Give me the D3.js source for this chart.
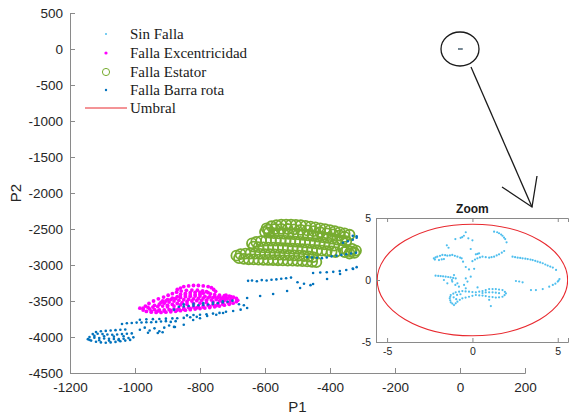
<!DOCTYPE html>
<html>
<head>
<meta charset="utf-8">
<script src="https://cdn.jsdelivr.net/npm/d3@7"></script>
<style>
    body { margin: 0; background: #fff; }
    svg { display: block; }
    .tick text { fill: #262626; font-family: "Liberation Sans", Arial, sans-serif; }
    .legend text { font-family: "Liberation Serif", "Times New Roman", serif; font-size: 15px; fill: #1a1a1a; }
</style>
</head>
<body>
<svg id="chart" width="569" height="416"></svg>
<script>
// ---- data (P1, P2) ----
const xTicks = [-1200, -1000, -800, -600, -400, -200, 0, 200];
const yTicks = [500, 0, -500, -1000, -1500, -2000, -2500, -3000, -3500, -4000, -4500];
const zoomTicks = [-5, 0, 5];
const legendLabels = ["Sin Falla", "Falla Excentricidad", "Falla Estator", "Falla Barra rota", "Umbral"];

// threshold ellipse radii (P1, P2), centred on the origin
const umbralRadii = [5.58, 4.5];

const sinFalla = [
    [-1.0,3.3],[-0.69,3.4],[-0.5,3.57],[-0.39,3.85],[-0.24,3.36],[0,3.2],[-0.6,3.45],
    [1.27,3.9],[1.45,3.85],[1.56,3.77],[1.68,3.67],[1.76,3.57],[1.85,3.42],[1.92,3.3],[2.0,3.04],
    [-2.26,1.75],[-2.16,1.82],[-2.06,1.88],[-1.9,1.95],[-1.76,2.02],[-1.6,2.0],[-1.47,1.96],[-1.32,1.98],
    [-1.18,2.02],[-1.03,1.95],[-0.88,1.88],[-0.72,1.8],[-0.63,1.75],[-0.55,1.48],[-1.96,1.61],[-1.8,1.66],
    [-1.67,1.69],[-2.2,1.65],
    [0,1.52],[0.15,1.65],[0.29,1.75],[0.44,1.82],[0.59,1.88],[0.78,1.84],[0.98,1.8],[1.12,1.84],[1.27,1.88],
    [1.42,1.98],[1.56,2.07],[1.72,2.2],[1.86,2.34],[0.2,2.07],[0.39,2.15],[0.3,2.1],
    [-0.39,1.05],[-0.2,0.85],[0.1,0.9],[-1.4,2.6],[-1.5,2.8],[-0.1,2.5],
    [2.35,1.88],[2.5,1.84],[2.65,1.8],[2.8,1.78],[2.94,1.75],[3.1,1.72],[3.24,1.69],[3.4,1.65],[3.53,1.61],
    [3.68,1.55],[3.82,1.48],[3.97,1.42],[4.12,1.35],[4.27,1.25],[4.41,1.16],[4.56,1.08],[4.71,1.0],[4.9,0.81],
    [2.55,-0.08],[2.74,-0.12],[2.94,-0.19],[3.43,-0.81],[3.72,-0.81],[4.12,-0.73],[4.5,-0.54],[4.71,-0.4],
    [4.86,-0.3],[5.0,-0.13],[5.1,0.08],[5.05,-0.05],
    [-2.16,0.35],[-2.0,0.33],[-1.86,0.32],[-1.72,0.3],[-1.57,0.27],[-1.42,0.24],[-1.28,0.21],[-1.13,0.17],
    [-0.98,0.13],[-1.18,-0.13],[-0.88,-0.27],[-0.79,-0.54],[-1.47,-0.27],[-1.67,0],[-1.08,0.4],[-1.2,0.0],[-1.0,-0.4],
    [-0.39,0.13],[-0.29,-0.13],[-0.1,0.27],[-0.49,-0.4],[-0.39,-0.67],
    [-1.27,-1.21],[-1.12,-1.1],[-0.98,-0.99],[-0.78,-0.94],[-0.59,-0.89],[-0.4,-0.92],[-0.2,-0.94],[0,-0.97],
    [0.2,-0.99],[0.4,-0.94],[0.59,-0.89],[0.78,-0.81],[0.98,-0.73],[1.18,-0.73],[1.37,-0.73],[1.56,-0.77],
    [1.76,-0.81],[1.9,-0.95],[1.96,-1.08],[1.88,-1.22],[1.76,-1.35],[1.56,-1.4],[1.37,-1.42],[1.18,-1.38],
    [0.98,-1.35],[0.78,-1.3],[0.59,-1.26],[0.4,-1.24],[0.2,-1.21],[0,-1.28],[-0.2,-1.35],[-0.4,-1.42],
    [-0.59,-1.48],[-0.74,-1.6],[-0.88,-1.75],[-0.98,-1.88],[-1.08,-2.02],[-1.18,-1.9],[-1.27,-1.8],[-1.3,-1.64],
    [-1.33,-1.48],[-1.3,-1.35],
    [0.59,-1.05],[0.78,-1.0],[0.98,-0.99],[1.18,-0.99],[1.37,-1.02],[1.56,-1.06],[-0.9,-1.2],[-0.7,-1.15],
    [-1.1,-1.4],[-0.95,-1.55],[0.98,-1.6],[1.08,-2.1],[0.3,-0.6]
];

const fallaExcentricidad = [
    [-975,-3625],[-965,-3645],[-950,-3655],[-935,-3658],[-920,-3658],[-905,-3655],[-890,-3650],[-875,-3643],
    [-860,-3635],[-845,-3628],[-830,-3620],[-815,-3612],[-800,-3605],[-785,-3598],[-770,-3590],[-755,-3580],
    [-740,-3570],[-725,-3558],[-710,-3545],[-698,-3530],[-688,-3510],[-684,-3490],
    [-688,-3465],[-697,-3445],[-710,-3432],[-725,-3425],[-740,-3420],[-755,-3412],[-768,-3400],[-775,-3385],
    [-780,-3370],[-792,-3358],[-808,-3350],[-825,-3348],[-842,-3352],[-858,-3362],[-872,-3378],[-885,-3398],
    [-898,-3420],[-912,-3445],[-928,-3470],[-943,-3500],[-957,-3535],[-968,-3570],[-975,-3600],[-985,-3600],
    [-955,-3610],[-940,-3620],[-925,-3625],[-910,-3625],[-895,-3620],[-880,-3612],[-865,-3605],[-850,-3598],
    [-835,-3590],[-820,-3582],[-805,-3575],[-790,-3568],[-775,-3560],[-760,-3550],[-745,-3540],[-730,-3528],
    [-715,-3515],[-705,-3498],
    [-940,-3560],[-925,-3545],[-910,-3530],[-895,-3515],[-880,-3500],[-865,-3490],[-850,-3482],[-835,-3476],
    [-820,-3470],[-805,-3465],[-790,-3460],[-775,-3456],[-760,-3452],[-745,-3450],[-730,-3452],[-715,-3462],
    [-705,-3478],
    [-860,-3410],[-845,-3395],[-830,-3385],[-815,-3380],[-800,-3382],[-790,-3392],[-800,-3405],[-815,-3412],
    [-830,-3415],[-845,-3418],[-870,-3440],[-885,-3460],[-900,-3480],[-915,-3500],
    [-900,-3580],[-880,-3570],[-860,-3555],[-840,-3545],[-820,-3538],[-800,-3530],[-780,-3522],[-760,-3512],
    [-740,-3500],[-725,-3490],
    [-960,-3590],[-945,-3585],[-930,-3578],[-915,-3570],[-900,-3560],[-885,-3548],[-870,-3535],[-855,-3522],
    [-840,-3510],[-825,-3500],[-810,-3495],[-795,-3490],[-780,-3488],[-765,-3485],[-750,-3480],[-735,-3475],
    [-720,-3470],[-705,-3440],[-720,-3420],
    [-850,-3300],[-835,-3290],[-820,-3285],[-805,-3285],[-790,-3290],[-775,-3300],[-765,-3315],[-860,-3320],
    [-870,-3340],[-758,-3340],[-752,-3365],
    [-920,-3520],[-905,-3500],[-890,-3480],[-875,-3465],[-860,-3450],[-845,-3440],[-830,-3435],[-815,-3432],
    [-800,-3432],[-785,-3435],[-770,-3438],[-755,-3440],[-740,-3442],[-725,-3445],[-700,-3460],
    [-950,-3640],[-930,-3640],[-910,-3640],[-890,-3632],[-870,-3625],[-850,-3615],[-830,-3605],[-810,-3595],
    [-790,-3585],[-770,-3575],[-750,-3565],[-730,-3545],[-710,-3530]
];

const fallaEstator = [
    [-595,-2490],[-580,-2462],[-565,-2448],[-550,-2440],[-535,-2438],[-520,-2438],[-505,-2442],[-490,-2448],
    [-475,-2456],[-460,-2466],[-445,-2478],[-430,-2490],[-415,-2503],[-400,-2517],[-385,-2531],[-370,-2546],
    [-355,-2562],[-340,-2580],
    [-590,-2510],[-570,-2500],[-550,-2498],[-530,-2500],[-510,-2505],[-490,-2512],[-470,-2520],[-450,-2530],
    [-430,-2545],[-410,-2560],[-390,-2575],[-370,-2590],[-355,-2610],
    [-600,-2540],[-588,-2550],[-573,-2556],[-558,-2560],[-543,-2563],[-528,-2566],[-513,-2570],[-498,-2575],
    [-483,-2580],[-468,-2587],[-453,-2595],[-438,-2604],[-423,-2614],[-408,-2624],[-393,-2635],[-378,-2646],
    [-363,-2658],[-350,-2670],
    [-640,-2700],[-627,-2680],[-612,-2668],[-597,-2662],[-582,-2660],[-567,-2660],[-552,-2662],[-537,-2666],
    [-522,-2670],[-507,-2675],[-492,-2680],[-477,-2686],[-462,-2692],[-447,-2698],[-432,-2705],[-417,-2712],
    [-402,-2720],[-387,-2730],
    [-635,-2745],[-620,-2752],[-605,-2756],[-590,-2758],[-575,-2760],[-560,-2762],[-545,-2765],[-530,-2768],
    [-515,-2772],[-500,-2776],[-485,-2780],[-470,-2785],[-455,-2790],[-440,-2795],[-425,-2800],[-410,-2806],
    [-395,-2812],[-383,-2820],
    [-688,-2870],[-675,-2850],[-660,-2842],[-645,-2840],[-630,-2842],[-615,-2845],[-600,-2848],[-585,-2850],
    [-570,-2852],[-555,-2855],[-540,-2858],[-525,-2862],[-510,-2866],[-495,-2870],[-480,-2875],[-465,-2882],
    [-452,-2890],
    [-680,-2905],[-665,-2915],[-650,-2920],[-635,-2922],[-620,-2925],[-605,-2928],[-590,-2930],[-575,-2932],
    [-560,-2934],[-545,-2936],[-530,-2938],[-515,-2940],[-500,-2942],[-485,-2945],[-470,-2950],[-455,-2955],
    [-442,-2960],
    [-360,-2770],[-348,-2790],[-336,-2810],[-325,-2830],[-340,-2840],[-355,-2820],[-332,-2775],[-320,-2800]
];

const fallaBarraRota = [
    [-1145,-4030],[-1135,-4050],[-1120,-4065],[-1105,-4075],[-1090,-4080],[-1075,-4075],[-1060,-4068],
    [-1045,-4060],[-1030,-4050],[-1015,-4040],
    [-1140,-4000],[-1125,-4010],[-1110,-4015],[-1095,-4020],[-1080,-4025],[-1065,-4028],[-1050,-4030],
    [-1035,-4025],[-1020,-4015],[-1005,-4005],
    [-1130,-3960],[-1115,-3955],[-1100,-3960],[-1085,-3965],[-1070,-3968],[-1055,-3965],[-1040,-3960],
    [-1025,-3955],[-1010,-3950],
    [-1120,-3930],[-1105,-3920],[-1090,-3915],[-1075,-3910],[-1060,-3905],[-1045,-3900],[-1030,-3895],
    [-1140,-4040],[-1110,-4045],[-1080,-4050],[-1050,-4045],[-1125,-3985],[-1095,-3990],[-1065,-3995],[-1035,-3990],
    [-1040,-3820],[-1025,-3810],[-1010,-3805],[-995,-3800],[-980,-3798],[-965,-3795],[-950,-3795],[-935,-3790],
    [-920,-3785],[-905,-3780],[-890,-3790],[-875,-3780],
    [-985,-3760],[-965,-3755],[-945,-3752],[-925,-3750],[-905,-3745],[-885,-3742],
    [-870,-3740],[-850,-3735],[-830,-3725],[-810,-3720],
    [-985,-3900],[-970,-3870],[-955,-3910],[-940,-3880],[-925,-3920],[-910,-3870],[-895,-3840],[-880,-3860],
    [-960,-3940],[-930,-3945],[-915,-3935],
    [-877,-3861],[-850,-3830],[-821,-3764],[-800,-3740],[-778,-3708],[-750,-3690],[-729,-3667],[-698,-3639],
    [-675,-3620],[-655,-3597],[-665,-3560],[-680,-3545],
    [-880,-3620],[-865,-3580],[-850,-3575],[-835,-3570],[-820,-3565],[-805,-3560],[-790,-3555],[-775,-3548],
    [-760,-3540],[-745,-3530],[-730,-3520],[-715,-3510],[-700,-3495],[-850,-3545],[-820,-3540],[-790,-3530],
    [-760,-3520],[-730,-3505],
    [-840,-3700],[-820,-3695],[-800,-3690],[-780,-3685],[-760,-3675],[-740,-3665],[-720,-3650],
    [-655,-3458],[-615,-3431],[-575,-3403],[-532,-3361],[-492,-3319],[-452,-3264],[-409,-3194],[-369,-3125],
    [-329,-3056],
    [-652,-3220],[-640,-3215],[-625,-3225],[-610,-3210],[-595,-3215],[-580,-3205],[-565,-3200],[-550,-3190],
    [-535,-3185],[-520,-3175],[-500,-3240],[-480,-3260],[-460,-3280],
    [-452,-3111],[-430,-3105],[-410,-3100],[-390,-3095],[-370,-3085],[-350,-3070],[-330,-3050],[-318,-3030],
    [-470,-2890],[-455,-2895],[-440,-2900],[-425,-2905],[-410,-2895],[-395,-2880],[-380,-2870],[-365,-2860],
    [-350,-2850],[-335,-2840],[-320,-2830],
    [-360,-2690],[-345,-2670],[-330,-2650],[-318,-2620],[-318,-2600],[-330,-2595]
];

// ---- styles ----
const colSin = "#4dbeee";
const colExc = "#ff00ff";
const colEst = "#77ac30";
const colBarra = "#0072bd";
const colUmbral = "#e8282e";
const axisGrey = "#8a8a8a";

const svg = d3.select("#chart");

// main axes
const x = d3.scaleLinear().domain([-1200, 200]).range([70, 525]);
const y = d3.scaleLinear().domain([-4500, 500]).range([373, 13]);

const main = svg.append("g").attr("id", "main");

main.selectAll("circle.sin")
    .data(sinFalla)
    .join("circle")
    .attr("class", "sin")
    .attr("cx", d => x(d[0]))
    .attr("cy", d => y(d[1]))
    .attr("r", 0.8)
    .attr("fill", "#7a8a96");

main.selectAll("circle.exc")
    .data(fallaExcentricidad)
    .join("circle")
    .attr("class", "exc")
    .attr("cx", d => x(d[0]))
    .attr("cy", d => y(d[1]))
    .attr("r", 1.9)
    .attr("fill", colExc);

main.selectAll("circle.est")
    .data(fallaEstator)
    .join("circle")
    .attr("class", "est")
    .attr("cx", d => x(d[0]))
    .attr("cy", d => y(d[1]))
    .attr("r", 5)
    .attr("fill", "none")
    .attr("stroke", colEst)
    .attr("stroke-width", 1.8);

main.selectAll("circle.barra")
    .data(fallaBarraRota)
    .join("circle")
    .attr("class", "barra")
    .attr("cx", d => x(d[0]))
    .attr("cy", d => y(d[1]))
    .attr("r", 1.3)
    .attr("fill", colBarra);

// axes, MATLAB-style inward ticks, no box
const plain = d => String(d);

const xAxis = main.append("g")
    .attr("transform", `translate(0,${y(-4500)})`)
    .call(d3.axisBottom(x).tickValues(xTicks).tickSize(-5).tickPadding(9).tickFormat(plain));
const yAxis = main.append("g")
    .attr("transform", `translate(${x(-1200)},0)`)
    .call(d3.axisLeft(y).tickValues(yTicks).tickSize(-5).tickPadding(7).tickFormat(plain));

[xAxis, yAxis].forEach(a => {
    a.select(".domain").attr("stroke", axisGrey);
    a.selectAll(".tick line").attr("stroke", axisGrey);
    a.selectAll(".tick text").style("font-size", "13.5px");
});

svg.append("text")
    .attr("x", (x(-1200) + x(200)) / 2)
    .attr("y", 412)
    .attr("text-anchor", "middle")
    .style("font-family", "Liberation Sans, Arial, sans-serif")
    .style("font-size", "15px")
    .attr("fill", "#262626")
    .text("P1");

svg.append("text")
    .attr("transform", `translate(21,${(y(500) + y(-4500)) / 2}) rotate(-90)`)
    .attr("text-anchor", "middle")
    .style("font-family", "Liberation Sans, Arial, sans-serif")
    .style("font-size", "15px")
    .attr("fill", "#262626")
    .text("P2");

// legend
const legend = svg.append("g").attr("class", "legend");
const legendY = [34, 53, 72, 90, 108];

legend.append("circle").attr("cx", 106).attr("cy", legendY[0]).attr("r", 1).attr("fill", colSin);
legend.append("circle").attr("cx", 106).attr("cy", legendY[1]).attr("r", 1.6).attr("fill", colExc);
legend.append("circle").attr("cx", 106).attr("cy", legendY[2]).attr("r", 3.6)
    .attr("fill", "none").attr("stroke", colEst).attr("stroke-width", 1);
legend.append("circle").attr("cx", 106).attr("cy", legendY[3]).attr("r", 1.2).attr("fill", colBarra);
legend.append("line")
    .attr("x1", 85).attr("x2", 127)
    .attr("y1", legendY[4]).attr("y2", legendY[4])
    .attr("stroke", colUmbral).attr("stroke-width", 1);

legend.selectAll("text")
    .data(legendLabels)
    .join("text")
    .attr("x", 130)
    .attr("y", (d, i) => legendY[i] + 5)
    .text(d => d);

// annotation: circle around the healthy cluster and arrow to the zoom
svg.append("ellipse")
    .attr("cx", x(0))
    .attr("cy", y(0))
    .attr("rx", 19)
    .attr("ry", 17)
    .attr("fill", "none")
    .attr("stroke", "#1a1a1a")
    .attr("stroke-width", 1.3);

const arrow = svg.append("g")
    .attr("stroke", "#1a1a1a")
    .attr("stroke-width", 1.3)
    .attr("fill", "none");
arrow.append("line").attr("x1", 471).attr("y1", 67).attr("x2", 532).attr("y2", 207);
arrow.append("polyline").attr("points", "502,187 532,207 537,176");

// inset "Zoom"
const ix = d3.scaleLinear().domain([-5.65, 5.6]).range([376, 568]);
const iy = d3.scaleLinear().domain([-5, 5]).range([342, 218]);

const inset = svg.append("g").attr("id", "inset");

inset.append("rect")
    .attr("x", ix(-5.65)).attr("y", iy(5))
    .attr("width", ix(5.6) - ix(-5.65))
    .attr("height", iy(-5) - iy(5))
    .attr("fill", "#fff");

inset.append("clipPath").attr("id", "inset-clip")
    .append("rect")
    .attr("x", ix(-5.65)).attr("y", iy(5))
    .attr("width", ix(5.6) - ix(-5.65))
    .attr("height", iy(-5) - iy(5));

const insetPlot = inset.append("g").attr("clip-path", "url(#inset-clip)");

insetPlot.selectAll("circle")
    .data(sinFalla)
    .join("circle")
    .attr("cx", d => ix(d[0]))
    .attr("cy", d => iy(d[1]))
    .attr("r", 1.1)
    .attr("fill", colSin);

insetPlot.append("ellipse")
    .attr("cx", ix(0))
    .attr("cy", iy(0))
    .attr("rx", ix(umbralRadii[0]) - ix(0))
    .attr("ry", iy(0) - iy(umbralRadii[1]))
    .attr("fill", "none")
    .attr("stroke", colUmbral)
    .attr("stroke-width", 1.1);

const ixAxis = inset.append("g")
    .attr("transform", `translate(0,${iy(-5)})`)
    .call(d3.axisBottom(ix).tickValues(zoomTicks).tickSize(-4).tickPadding(6).tickFormat(plain));
const ixTop = inset.append("g")
    .attr("transform", `translate(0,${iy(5)})`)
    .call(d3.axisTop(ix).tickValues(zoomTicks).tickSize(-4).tickFormat(""));
const iyAxis = inset.append("g")
    .attr("transform", `translate(${ix(-5.65)},0)`)
    .call(d3.axisLeft(iy).tickValues(zoomTicks).tickSize(-4).tickPadding(5).tickFormat(plain));

[ixAxis, ixTop, iyAxis].forEach(a => {
    a.select(".domain").attr("stroke", axisGrey);
    a.selectAll(".tick line").attr("stroke", axisGrey);
    a.selectAll(".tick text").style("font-size", "10.5px");
});

inset.append("text")
    .attr("x", ix(0))
    .attr("y", iy(5) - 5)
    .attr("text-anchor", "middle")
    .style("font-family", "Liberation Sans, Arial, sans-serif")
    .style("font-size", "12px")
    .style("font-weight", "bold")
    .attr("fill", "#1a1a1a")
    .text("Zoom");
</script>
</body>
</html>
